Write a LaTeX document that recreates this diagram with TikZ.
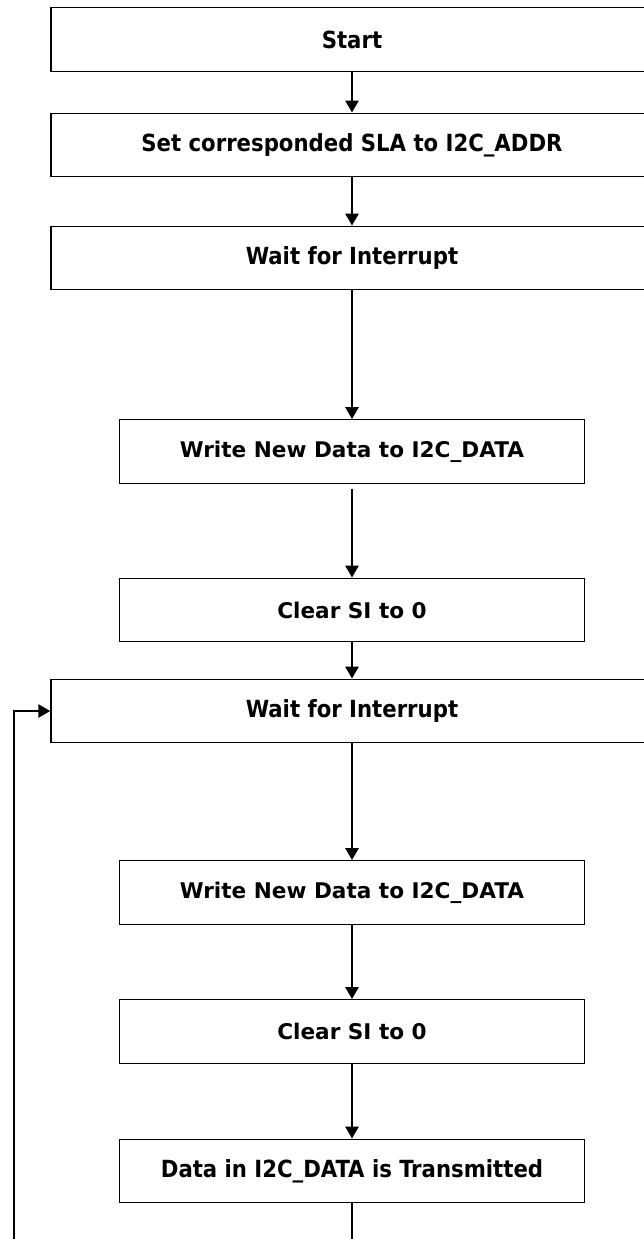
\documentclass[tikz,border=0pt]{standalone}
\usepackage{fontspec}
\setmainfont{DejaVu Sans}
\newfontfamily\condfont{DejaVu Sans Condensed}
\usetikzlibrary{positioning,arrows.meta}
\tikzset{
  fcbox/.style={rectangle, draw=black, line width=1.3pt, minimum width=465pt, minimum height=63.5pt, inner sep=0pt, font=\bfseries\fontsize{21.6}{25}\selectfont},
  fcwide/.style={fcbox, minimum width=602pt},
  fccond/.style={font=\condfont\bfseries\fontsize{23.6}{27}\selectfont},
  fcarr/.style={draw=black, line width=2.6pt, -{Triangle[length=12pt,width=13pt]}},
  fcline/.style={draw=black, line width=2.6pt}
}
\begin{document}
\begin{tikzpicture}[x=1pt,y=1pt]
  \useasboundingbox (0,0) rectangle (644,-1239);
  \clip (0,0) rectangle (644,-1239);
  % boxes
  \node[fcwide, fccond] (start) at (352,-39.5) {Start};
  \node[fcwide, fccond] (sla) at (352,-145) {Set corresponded SLA to I2C\_ADDR};
  \node[fcwide, fccond] (wait1) at (352,-258) {Wait for Interrupt};
  \node[fcbox] (write1) at (352,-451.5) {Write New Data to I2C\_DATA};
  \node[fcbox] (clear1) at (352,-610) {Clear SI to 0};
  \node[fcwide, fccond] (wait2) at (352,-711) {Wait for Interrupt};
  \node[fcbox] (write2) at (352,-892.5) {Write New Data to I2C\_DATA};
  \node[fcbox] (clear2) at (352,-1031.5) {Clear SI to 0};
  \node[fcbox, fccond] (sent) at (352,-1171) {Data in I2C\_DATA is Transmitted};
  % loop ends, below the page edge
  \coordinate (tail) at (352,-1260);
  \coordinate (back) at (14,-1260);
  % arrows
  \draw[fcarr] (start) -- (sla);
  \draw[fcarr] (sla) -- (wait1);
  \draw[fcarr] (wait1) -- (write1);
  \draw[fcarr, shorten <=5pt] (write1) -- (clear1);
  \draw[fcarr] (clear1) -- (wait2);
  \draw[fcarr] (wait2) -- (write2);
  \draw[fcarr] (write2) -- (clear2);
  \draw[fcarr] (clear2) -- (sent);
  \draw[fcline] (sent) -- (tail);
  \draw[fcarr] (back) |- (wait2.west);
\end{tikzpicture}
\end{document}
